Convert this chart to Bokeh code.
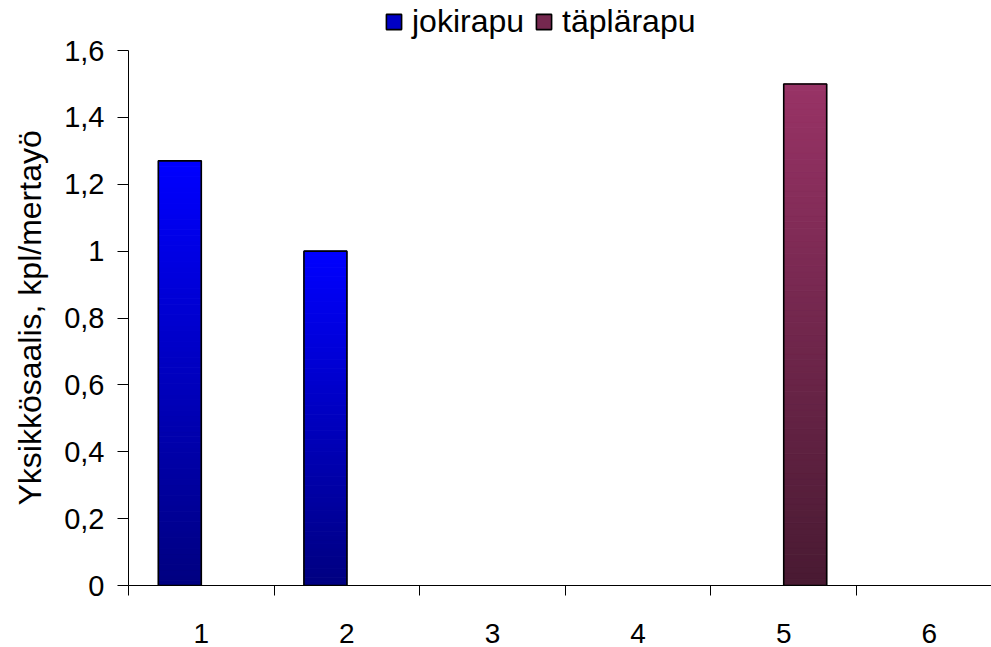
import numpy as np
from bokeh.plotting import figure
from bokeh.models import (ColumnDataSource, FixedTicker, CustomJSTickFormatter,
                          Legend, LegendItem, Range1d, Title)
from bokeh.embed import file_html
from bokeh.resources import INLINE

# Catch per unit effort by site
categories = [1, 2, 3, 4, 5, 6]
jokirapu = [1.27, 1.0, 0, 0, 0, 0]
taplarapu = [0, 0, 0, 0, 1.5, 0]
series_names = ["jokirapu", "täplärapu"]
y_ticks = [0, 0.2, 0.4, 0.6, 0.8, 1.0, 1.2, 1.4, 1.6]
y_title = "Yksikkösaalis, kpl/mertayö"

FONT = "Liberation Sans"
BAR_W = 0.295
N_SLICES = 80
Y_MAX = 1.6
# headroom above the value axis holds the legend
Y_TOP = Y_MAX * 585 / 535

# gradient ends (top colour, bottom colour) for each series
GRADIENTS = [((0, 0, 255), (0, 0, 128)),
             ((153, 51, 102), (72, 26, 50))]
OFFSETS = [-BAR_W / 2, BAR_W / 2]

p = figure(width=991, height=647, output_backend="svg", toolbar_location=None,
           x_range=Range1d(0.5, 6.427), y_range=Range1d(0, Y_TOP),
           min_border_left=128, min_border_right=0, min_border_top=0,
           min_border_bottom=62)
p.outline_line_color = None
p.grid.visible = False
p.background_fill_color = "white"
p.border_fill_color = "white"


def hexcol(c):
    return "#%02x%02x%02x" % tuple(int(round(v)) for v in c)


legend_items = []
for s, (name, vals) in enumerate(zip(series_names, [jokirapu, taplarapu])):
    top_c, bot_c = (np.array(c, dtype=float) for c in GRADIENTS[s])
    left, right, bottom, top, colors = [], [], [], [], []
    for cat, v in zip(categories, vals):
        if v <= 0:
            continue
        cx = cat + OFFSETS[s]
        edges = np.linspace(0, v, N_SLICES + 1)
        for i in range(N_SLICES):
            f = (i + 0.5) / N_SLICES
            left.append(cx - BAR_W / 2)
            right.append(cx + BAR_W / 2)
            bottom.append(edges[i])
            top.append(edges[i + 1])
            colors.append(hexcol(bot_c + (top_c - bot_c) * f))
    src = ColumnDataSource(dict(left=left, right=right, bottom=bottom, top=top, color=colors))
    p.quad(left="left", right="right", bottom="bottom", top="top", source=src,
           fill_color="color", line_color="color", line_width=1)

    # bar outlines
    bx = [c + OFFSETS[s] for c, v in zip(categories, vals) if v > 0]
    bv = [v for v in vals if v > 0]
    osrc = ColumnDataSource(dict(left=[x - BAR_W / 2 for x in bx],
                                 right=[x + BAR_W / 2 for x in bx],
                                 top=bv, bottom=[0] * len(bv)))
    p.quad(left="left", right="right", bottom="bottom", top="top", source=osrc,
           fill_color=None, line_color="black", line_width=1.6)

    # legend swatch (kept outside the visible x range)
    sw = p.quad(left=[-5], right=[-4], bottom=[0], top=[1],
                fill_color=hexcol(top_c * 0.55 + bot_c * 0.45),
                line_color="black", line_width=1.6)
    legend_items.append(LegendItem(label=name, renderers=[sw]))

# x axis: labels at category centres, ticks between categories
xa = p.xaxis[0]
xa.ticker = FixedTicker(ticks=categories, minor_ticks=[c - 0.5 for c in categories] + [6.5])
xa.major_tick_out = 0
xa.major_tick_in = 0
xa.minor_tick_out = 10
xa.minor_tick_in = 0
xa.minor_tick_line_color = "black"
xa.axis_line_color = "black"
xa.major_label_text_font = FONT
xa.major_label_text_font_size = "28px"
xa.major_label_text_color = "black"
xa.major_label_standoff = 28

# y axis, drawn only up to the top tick
ya = p.yaxis[0]
ya.bounds = (0, Y_MAX)
ya.ticker = FixedTicker(ticks=y_ticks, minor_ticks=[])
ya.formatter = CustomJSTickFormatter(
    code="return tick.toFixed(1).replace('.0', '').replace('.', ',');")
ya.major_tick_out = 11
ya.major_tick_in = 0
ya.major_tick_line_color = "black"
ya.axis_line_color = "black"
ya.major_label_text_font = FONT
ya.major_label_text_font_size = "29px"
ya.major_label_text_color = "black"
ya.major_label_standoff = 13

# value axis title, centred along the drawn axis
yt = Title(text=y_title, align="left", offset=80, standoff=23, vertical_align="top",
           text_font=FONT, text_font_size="32px", text_font_style="normal",
           text_color="black")
p.add_layout(yt, "left")

legend = Legend(items=legend_items, orientation="horizontal", location=(256, 545),
                label_text_font=FONT, label_text_font_size="32px",
                label_text_color="black", glyph_width=19, glyph_height=19,
                label_standoff=9, spacing=10, padding=0, margin=0,
                border_line_color=None, background_fill_alpha=0)
p.add_layout(legend)

open("out.html", "w").write(file_html(p, INLINE))
